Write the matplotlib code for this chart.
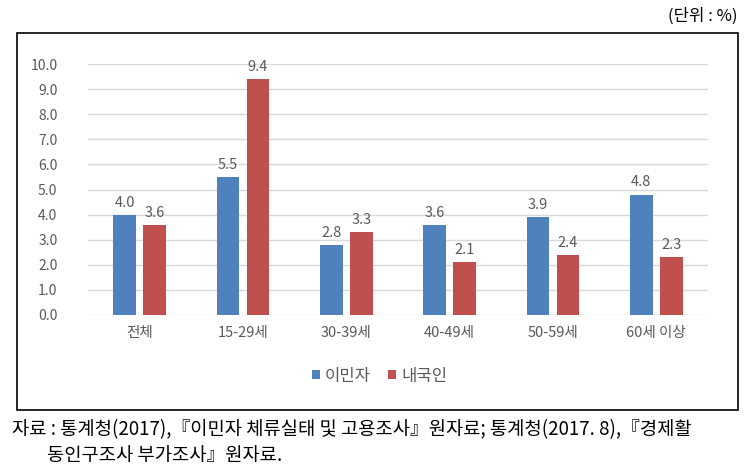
import numpy as np
import matplotlib.pyplot as plt
import matplotlib.patches as mpatches

plt.rcParams['font.family'] = ['Noto Sans CJK KR', 'DejaVu Sans']

categories = ['전체', '15-29세', '30-39세', '40-49세', '50-59세', '60세 이상']
immigrants = [4.0, 5.5, 2.8, 3.6, 3.9, 4.8]
natives = [3.6, 9.4, 3.3, 2.1, 2.4, 2.3]
series_names = ['이민자', '내국인']
yticks = np.arange(0, 10.01, 1.0)

blue = '#4F81BD'
red = '#C0504D'
grey = '#595959'

fig = plt.figure(figsize=(7.54, 4.72), dpi=100, facecolor='w')

# outer frame
fig.patches.append(mpatches.Rectangle((17 / 754, 1 - 410 / 472), (738 - 17) / 754, (410 - 33) / 472,
                                      transform=fig.transFigure, fill=False, edgecolor='k', lw=1.2))

ax = fig.add_axes([88 / 754, 1 - 315 / 472, 620 / 754, 251 / 472])
x = np.arange(len(categories))
w = 0.22
b1 = ax.bar(x - 0.145, immigrants, w, color=blue, label=series_names[0], zorder=3)
b2 = ax.bar(x + 0.145, natives, w, color=red, label=series_names[1], zorder=3)
for bars, vals in ((b1, immigrants), (b2, natives)):
    for r, v in zip(bars, vals):
        ax.text(r.get_x() + r.get_width() / 2, v + 0.2, '%.1f' % v, ha='center', va='bottom',
                fontsize=10.5, color=grey)

ax.set_xlim(-0.5, len(categories) - 0.5)
ax.set_ylim(0, 10)
ax.set_yticks(yticks)
ax.set_yticklabels(['%.1f' % t for t in yticks], fontsize=10, color=grey)
ax.set_xticks(x)
ax.set_xticklabels(categories, fontsize=10.5, color=grey)
ax.tick_params(length=0, pad=8)
ax.tick_params(axis='y', pad=22)
ax.yaxis.grid(True, color='#D9D9D9', lw=1, zorder=0)
for s in ax.spines.values():
    s.set_visible(False)

ax.legend(loc='upper center', bbox_to_anchor=(0.47, -0.15), ncol=2, frameon=False,
          fontsize=12, handlelength=0.5, handleheight=0.5, handletextpad=0.3,
          columnspacing=1.0, labelcolor=grey)

fig.text(738 / 754, 1 - 16 / 472, '(단위 : %)', ha='right', va='center', fontsize=12)
fig.text(12 / 754, 1 - 430 / 472,
         '자료 : 통계청(2017),『이민자 체류실태 및 고용조사』원자료; 통계청(2017. 8),『경제활',
         ha='left', va='center', fontsize=13.5)
fig.text(47 / 754, 1 - 456 / 472, '동인구조사 부가조사』원자료.',
         ha='left', va='center', fontsize=13.5)

plt.savefig('out.png', dpi=100, facecolor='w')
